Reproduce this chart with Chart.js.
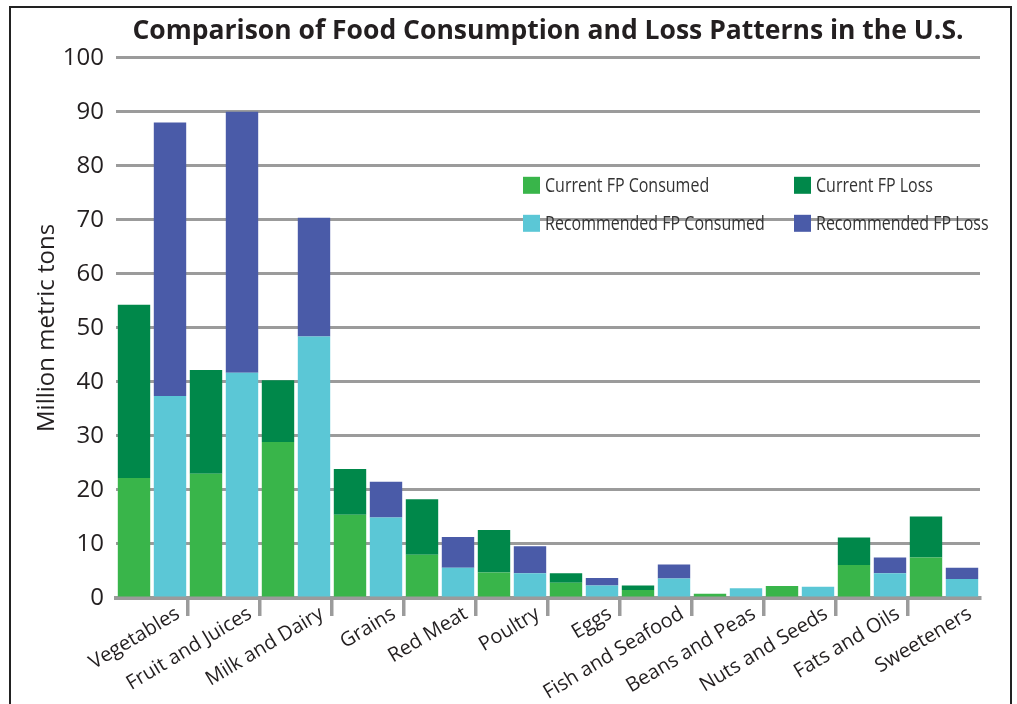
<!DOCTYPE html>
<html>
<head>
<meta charset="utf-8">
<script src="https://cdn.jsdelivr.net/npm/chart.js@4/dist/chart.umd.min.js"></script>
<style>
  html, body { margin: 0; padding: 0; background: #fff; }
  #frame { position: absolute; left: 9px; top: 6px; width: 999px; height: 720px; border: 2.7px solid #222; box-sizing: content-box; }
  #wrap { position: absolute; left: 0; top: 0; width: 1017px; height: 704px; z-index: 1; }
</style>
</head>
<body>
<div id="frame"></div>
<div id="wrap"><canvas id="c" width="1017" height="704"></canvas></div>
<script>
const categories = ["Vegetables", "Fruit and Juices", "Milk and Dairy", "Grains", "Red Meat", "Poultry", "Eggs", "Fish and Seafood", "Beans and Peas", "Nuts and Seeds", "Fats and Oils", "Sweeteners"];
const currentConsumed     = [22.2, 23.0, 28.9, 15.4, 8.0, 4.7, 2.8, 1.5, 0.8, 2.2, 6.1, 7.5];
const currentLoss         = [32.1, 19.2, 11.4, 8.5, 10.3, 7.9, 1.8, 0.8, 0.0, 0.0, 5.1, 7.6];
const recommendedConsumed = [37.4, 41.7, 48.4, 14.9, 5.6, 4.6, 2.3, 3.6, 1.8, 2.1, 4.6, 3.5];
const recommendedLoss     = [50.6, 48.3, 22.0, 6.6, 5.7, 5.0, 1.4, 2.6, 0.0, 0.0, 2.9, 2.1];
const seriesLabels = ["Current FP Consumed", "Current FP Loss", "Recommended FP Consumed", "Recommended FP Loss"];
const yTicks = [0, 10, 20, 30, 40, 50, 60, 70, 80, 90, 100];

const colors = ["#39b54a", "#00884a", "#5bc7d6", "#4a5ba8"];
const GRID = "#9b9b9b";
const TEXT = "#231f20";

const legendPlugin = {
  id: "insideLegend",
  afterDraw(chart) {
    const ctx = chart.ctx;
    const a = chart.chartArea;
    const ds = chart.data.datasets;
    const x0 = a.left + 407, y0 = a.top + 119;
    const colX = [0, 271], rowY = [0, 38];
    ctx.save();
    ds.forEach((d, i) => {
      const col = i % 2, row = Math.floor(i / 2);
      const bx = x0 + colX[col], by = y0 + rowY[row];
      ctx.fillStyle = d.backgroundColor;
      ctx.fillRect(bx, by, 17, 17);
      ctx.save();
      ctx.translate(bx + 22, by + 9);
      ctx.scale(0.80, 1);
      ctx.fillStyle = "#333";
      ctx.font = '20px "Open Sans"';
      ctx.textBaseline = "middle";
      ctx.textAlign = "left";
      ctx.fillText(d.label, 0, 0);
      ctx.restore();
    });
    ctx.restore();
  }
};

new Chart(document.getElementById("c"), {
  type: "bar",
  data: {
    labels: categories,
    datasets: [
      { label: seriesLabels[0], data: currentConsumed, backgroundColor: colors[0], stack: "current" },
      { label: seriesLabels[1], data: currentLoss, backgroundColor: colors[1], stack: "current" },
      { label: seriesLabels[2], data: recommendedConsumed, backgroundColor: colors[2], stack: "recommended" },
      { label: seriesLabels[3], data: recommendedLoss, backgroundColor: colors[3], stack: "recommended" }
    ]
  },
  options: {
    responsive: false,
    animation: false,
    devicePixelRatio: 1,
    datasets: { bar: { categoryPercentage: 1.0, barPercentage: 0.9, borderWidth: 0 } },
    layout: { padding: { left: 20, right: 37, top: 0, bottom: 0 } },
    plugins: {
      legend: { display: false },
      tooltip: { enabled: false },
      title: {
        display: true,
        fullSize: false,
        text: "Comparison of Food Consumption and Loss Patterns in the U.S.",
        color: TEXT,
        font: { family: "Open Sans", size: 26.5, weight: "bold" },
        padding: { top: 16, bottom: 10 }
      }
    },
    scales: {
      x: {
        stacked: true,
        grid: {
          offset: true,
          drawOnChartArea: false,
          drawTicks: true,
          tickLength: 18,
          lineWidth: 3.5,
          color: (ctx) => (ctx.type === "tick" && ctx.index > 0) ? GRID : "rgba(0,0,0,0)"
        },
        border: { display: true, color: GRID, width: 4 },
        ticks: {
          autoSkip: false,
          maxRotation: 31,
          minRotation: 31,
          labelOffset: 26,
          padding: -14,
          color: TEXT,
          font: { family: "Open Sans", size: 20 }
        },
        afterFit(scale) { scale.height = 106; }
      },
      y: {
        stacked: true,
        min: 0,
        max: 100,
        afterBuildTicks(scale) { scale.ticks = yTicks.map(v => ({ value: v })); },
        grid: { drawTicks: false, color: GRID, lineWidth: 3 },
        border: { display: false },
        ticks: {
          padding: 12,
          color: TEXT,
          font: { family: "Open Sans", size: 24 }
        },
        title: {
          display: true,
          text: "Million metric tons",
          color: TEXT,
          font: { family: "Open Sans", size: 24 },
          padding: { top: 13, bottom: 0 }
        },
        afterFit(scale) { scale.width = 96; }
      }
    }
  },
  plugins: [legendPlugin]
});
</script>
</body>
</html>
